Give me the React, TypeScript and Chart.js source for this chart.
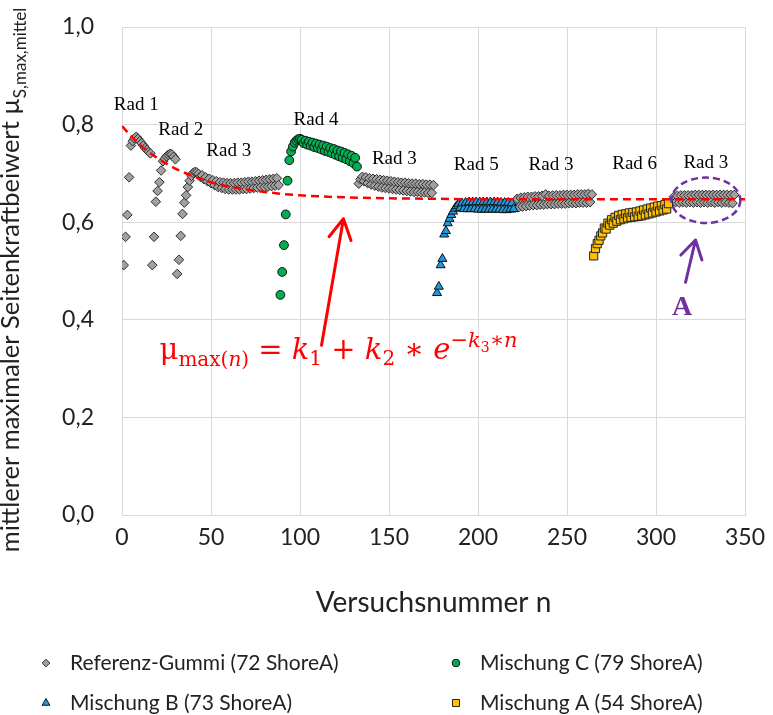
import React, { useEffect, useRef } from "react";
import { Chart, registerables } from "chart.js";

Chart.register(...registerables);

// ---------- data (n = Versuchsnummer, values = µ) ----------
const seriesLabels = [
  "Referenz-Gummi (72 ShoreA)",
  "Mischung C (79 ShoreA)",
  "Mischung B (73 ShoreA)",
  "Mischung A (54 ShoreA)",
];

// Referenz-Gummi, Rad 1 (n = 1..16)
const refRad1Start = 1;
const refRad1 = [0.512, 0.570, 0.615, 0.692, 0.757, 0.766, 0.772, 0.775, 0.771, 0.766, 0.762, 0.757, 0.752, 0.748, 0.744, 0.741];
// Referenz-Gummi, Rad 2 (n = 17..30)
const refRad2Start = 17;
const refRad2 = [0.512, 0.570, 0.642, 0.664, 0.682, 0.706, 0.725, 0.730, 0.735, 0.738, 0.740, 0.739, 0.734, 0.729];
// Referenz-Gummi, Rad 3 (n = 31..88)
const refRad3aStart = 31;
const refRad3a = [
  0.494, 0.523, 0.572, 0.617, 0.640, 0.655, 0.672, 0.685, 0.695, 0.701, 0.703, 0.702,
  0.699, 0.693, 0.696, 0.688, 0.692, 0.684, 0.689, 0.680, 0.686, 0.676, 0.684, 0.672,
  0.682, 0.670, 0.681, 0.668, 0.680, 0.667, 0.680, 0.667, 0.680, 0.667, 0.681, 0.667,
  0.681, 0.668, 0.682, 0.668, 0.683, 0.669, 0.683, 0.670, 0.684, 0.671, 0.685, 0.672,
  0.686, 0.672, 0.687, 0.673, 0.688, 0.674, 0.689, 0.675, 0.690, 0.676,
];
// Mischung C, Rad 4 (n = 89..132)
const mischCStart = 89;
const mischC = [
  0.451, 0.498, 0.553, 0.616, 0.685, 0.727, 0.745, 0.755, 0.763, 0.767, 0.770, 0.771,
  0.769, 0.762, 0.767, 0.759, 0.765, 0.757, 0.763, 0.754, 0.761, 0.752, 0.759, 0.749,
  0.757, 0.746, 0.755, 0.744, 0.752, 0.741, 0.750, 0.738, 0.747, 0.735, 0.745, 0.732,
  0.742, 0.729, 0.739, 0.725, 0.736, 0.721, 0.732, 0.714,
];
// Referenz-Gummi, Rad 3 (n = 133..175)
const refRad3bStart = 133;
const refRad3b = [
  0.679, 0.688, 0.693, 0.684, 0.692, 0.680, 0.690, 0.677, 0.689, 0.675, 0.688, 0.673,
  0.687, 0.671, 0.686, 0.670, 0.685, 0.669, 0.684, 0.668, 0.683, 0.667, 0.682, 0.666,
  0.681, 0.665, 0.681, 0.664, 0.680, 0.663, 0.679, 0.662, 0.679, 0.662, 0.678, 0.661,
  0.678, 0.661, 0.677, 0.660, 0.677, 0.660, 0.676,
];
// Mischung B, Rad 5 (n = 177..220)
const mischBStart = 177;
const mischB = [
  0.455, 0.468, 0.512, 0.525, 0.575, 0.582, 0.598, 0.607, 0.615, 0.622, 0.628, 0.633,
  0.637, 0.629, 0.639, 0.627, 0.640, 0.627, 0.641, 0.627, 0.641, 0.627, 0.641, 0.626,
  0.641, 0.626, 0.641, 0.626, 0.641, 0.626, 0.641, 0.626, 0.641, 0.626, 0.641, 0.626,
  0.640, 0.625, 0.640, 0.625, 0.640, 0.626, 0.639, 0.627,
];
// Referenz-Gummi, Rad 3 (n = 221..264)
const refRad3cStart = 221;
const refRad3c = [
  0.630, 0.648, 0.631, 0.650, 0.632, 0.651, 0.633, 0.652, 0.634, 0.652, 0.635, 0.653,
  0.635, 0.653, 0.636, 0.654, 0.636, 0.657, 0.637, 0.654, 0.637, 0.655, 0.637, 0.655,
  0.638, 0.655, 0.638, 0.656, 0.638, 0.656, 0.639, 0.656, 0.639, 0.656, 0.639, 0.657,
  0.640, 0.657, 0.640, 0.657, 0.640, 0.658, 0.641, 0.657,
];
// Mischung A, Rad 6 (n = 265..307)
const mischAStart = 265;
const mischA = [
  0.531, 0.546, 0.556, 0.563, 0.572, 0.578, 0.588, 0.586, 0.598, 0.594, 0.605, 0.598,
  0.610, 0.602, 0.614, 0.605, 0.616, 0.607, 0.617, 0.609, 0.619, 0.610, 0.620, 0.611,
  0.621, 0.612, 0.623, 0.613, 0.625, 0.615, 0.627, 0.617, 0.629, 0.619, 0.631, 0.621,
  0.633, 0.623, 0.634, 0.625, 0.636, 0.627, 0.638,
];
// Referenz-Gummi, Rad 3 (n = 309..344)
const refRad3dStart = 309;
const refRad3d = [
  0.640, 0.652, 0.641, 0.654, 0.640, 0.655, 0.641, 0.655, 0.640, 0.655, 0.641, 0.655,
  0.640, 0.656, 0.641, 0.656, 0.640, 0.656, 0.641, 0.656, 0.640, 0.656, 0.641, 0.656,
  0.640, 0.656, 0.641, 0.656, 0.640, 0.656, 0.641, 0.656, 0.640, 0.656, 0.639, 0.656,
];

// Fit curve µmax(n)
const fitN = [0, 5, 10, 15, 20, 25, 30, 40, 50, 60, 70, 80, 90, 100, 125, 150, 175, 200, 250, 300, 350];
const fitMu = [0.797, 0.777, 0.759, 0.744, 0.731, 0.720, 0.710, 0.694, 0.682, 0.673, 0.667, 0.662, 0.658, 0.655, 0.651, 0.649, 0.648, 0.647, 0.647, 0.647, 0.647];

// Wheel labels (annotations, data coordinates)
const radLabels = ["Rad 1", "Rad 2", "Rad 3", "Rad 4", "Rad 3", "Rad 5", "Rad 3", "Rad 6", "Rad 3"];
const radLabelN = [8, 33, 60, 109, 153, 199, 241, 288, 328];
const radLabelMu = [0.840, 0.788, 0.746, 0.809, 0.729, 0.717, 0.717, 0.719, 0.721];

// ---------- helpers ----------
const seg = (start: number, vals: number[]) => vals.map((v, i) => ({ x: start + i, y: v }));

const refData = [
  ...seg(refRad1Start, refRad1),
  ...seg(refRad2Start, refRad2),
  ...seg(refRad3aStart, refRad3a),
  ...seg(refRad3bStart, refRad3b),
  ...seg(refRad3cStart, refRad3c),
  ...seg(refRad3dStart, refRad3d),
];
const cData = seg(mischCStart, mischC);
const bData = seg(mischBStart, mischB);
const aData = seg(mischAStart, mischA);
const fitData = fitN.map((n, i) => ({ x: n, y: fitMu[i] }));

const SANS = "Lato, 'Open Sans', sans-serif";
const SERIF = "'Liberation Serif', serif";
const MATH = "'DejaVu Serif', serif";
const RED = "#FF0000";
const PURPLE = "#7030A0";

function drawMarker(ctx: CanvasRenderingContext2D, style: string, x: number, y: number, r: number) {
  ctx.beginPath();
  if (style === "circle") ctx.arc(x, y, r, 0, Math.PI * 2);
  else if (style === "rectRot") {
    ctx.moveTo(x - r, y); ctx.lineTo(x, y - r); ctx.lineTo(x + r, y); ctx.lineTo(x, y + r); ctx.closePath();
  } else if (style === "triangle") {
    ctx.moveTo(x, y - r); ctx.lineTo(x + 0.866 * r, y + 0.5 * r); ctx.lineTo(x - 0.866 * r, y + 0.5 * r); ctx.closePath();
  } else {
    const s = r * Math.SQRT1_2;
    ctx.rect(x - s, y - s, 2 * s, 2 * s);
  }
  ctx.fill();
  ctx.stroke();
}

function drawArrow(ctx: CanvasRenderingContext2D, x0: number, y0: number, x1: number, y1: number, color: string, head: number, angDeg: number) {
  ctx.save();
  ctx.strokeStyle = color;
  ctx.lineWidth = 3;
  ctx.lineCap = "round";
  ctx.lineJoin = "round";
  ctx.setLineDash([]);
  ctx.beginPath();
  ctx.moveTo(x0, y0);
  ctx.lineTo(x1, y1);
  const a = Math.atan2(y0 - y1, x0 - x1);
  const d = (angDeg * Math.PI) / 180;
  ctx.moveTo(x1 + head * Math.cos(a - d), y1 + head * Math.sin(a - d));
  ctx.lineTo(x1, y1);
  ctx.lineTo(x1 + head * Math.cos(a + d), y1 + head * Math.sin(a + d));
  ctx.stroke();
  ctx.restore();
}

type Part = { t: string; size: number; italic?: boolean; dy?: number };
const formulaParts: Part[] = [
  { t: "μ", size: 29 },
  { t: "max(", size: 20, dy: 7 },
  { t: "n", size: 20, italic: true, dy: 7 },
  { t: ")", size: 20, dy: 7 },
  { t: " = ", size: 29 },
  { t: "k", size: 29, italic: true },
  { t: "1", size: 20, dy: 6 },
  { t: " + ", size: 29 },
  { t: "k", size: 29, italic: true },
  { t: "2", size: 20, dy: 6 },
  { t: " ∗ ", size: 29 },
  { t: "e", size: 29, italic: true },
  { t: "−", size: 21, dy: -12 },
  { t: "k", size: 21, italic: true, dy: -12 },
  { t: "3", size: 14, dy: -7 },
  { t: "∗", size: 21, dy: -12 },
  { t: "n", size: 21, italic: true, dy: -12 },
];

const overlayPlugin = {
  id: "overlay",
  afterDatasetsDraw(chart: any) {
    const { ctx } = chart;
    const xs = chart.scales.x;
    const ys = chart.scales.y;
    const px = (n: number) => xs.getPixelForValue(n);
    const py = (m: number) => ys.getPixelForValue(m);
    ctx.save();

    // wheel labels
    ctx.font = `19px ${SERIF}`;
    ctx.fillStyle = "#000";
    ctx.textAlign = "center";
    ctx.textBaseline = "middle";
    radLabels.forEach((t, i) => ctx.fillText(t, px(radLabelN[i]), py(radLabelMu[i])));

    // red arrow to the fit curve
    drawArrow(ctx, px(112.1), py(0.348), px(124.4), py(0.607), RED, 23, 29);

    // formula
    let fx = px(21.1);
    const fy = py(0.32);
    ctx.fillStyle = RED;
    ctx.textAlign = "left";
    ctx.textBaseline = "alphabetic";
    formulaParts.forEach((p) => {
      ctx.font = `${p.italic ? "italic " : ""}${p.size}px ${MATH}`;
      ctx.fillText(p.t, fx, fy + (p.dy || 0));
      fx += ctx.measureText(p.t).width;
    });

    // purple dashed ellipse
    const cx = px(328), cy = py(0.645);
    const rx = px(328 + 19.4) - cx, ry = cy - py(0.645 + 0.0465);
    ctx.strokeStyle = PURPLE;
    ctx.lineWidth = 2.5;
    ctx.setLineDash([7, 4]);
    ctx.beginPath();
    ctx.ellipse(cx, cy, rx, ry, 0, 0, Math.PI * 2);
    ctx.stroke();
    ctx.setLineDash([]);

    // purple arrow + "A"
    drawArrow(ctx, px(316.6), py(0.477), px(322.2), py(0.5635), PURPLE, 21, 31);
    ctx.fillStyle = PURPLE;
    ctx.font = `bold 28px ${SERIF}`;
    ctx.textAlign = "center";
    ctx.textBaseline = "middle";
    ctx.fillText("A", px(314.6), py(0.424));
    ctx.restore();
  },
  afterDraw(chart: any) {
    const { ctx } = chart;
    ctx.save();

    // y axis title with subscript
    ctx.fillStyle = "#222";
    ctx.textBaseline = "alphabetic";
    ctx.textAlign = "left";
    const main = "mittlerer maximaler Seitenkraftbeiwert µ";
    const sub = "S,max,mittel";
    ctx.font = `25.5px ${SANS}`;
    const wMain = ctx.measureText(main).width;
    ctx.font = `17px ${SANS}`;
    const wSub = ctx.measureText(sub).width;
    ctx.translate(19, 280);
    ctx.rotate(-Math.PI / 2);
    const start = -(wMain + wSub) / 2;
    ctx.font = `25.5px ${SANS}`;
    ctx.fillText(main, start, 0);
    ctx.font = `17px ${SANS}`;
    ctx.fillText(sub, start + wMain, 7);
    ctx.restore();

    // legend (2 columns x 2 rows)
    ctx.save();
    const cols = [46, 456];
    const rows = [663, 703];
    const ds = chart.data.datasets;
    for (let i = 0; i < 4; i++) {
      const d = ds[i];
      const x = cols[i % 2];
      const y = rows[Math.floor(i / 2)];
      ctx.fillStyle = d.backgroundColor;
      ctx.strokeStyle = d.borderColor;
      ctx.lineWidth = 1;
      const r = d.pointStyle === "rect" ? 5 : d.pointStyle === "triangle" ? 4.5 : 3.8;
      drawMarker(ctx, d.pointStyle, x, y, r);
      ctx.fillStyle = "#222";
      ctx.font = `21px ${SANS}`;
      ctx.textAlign = "left";
      ctx.textBaseline = "middle";
      ctx.fillText(d.label, x + 24, y);
    }
    ctx.restore();
  },
};

export default function App() {
  const ref = useRef<HTMLCanvasElement | null>(null);

  useEffect(() => {
    document.body.style.margin = "0";
    if (!ref.current) return;
    const tickFont = { family: SANS, size: 23 };
    const titleFont = { family: SANS, size: 28 };
    const chart = new Chart(ref.current, {
      type: "scatter",
      data: {
        datasets: [
          {
            label: seriesLabels[0], data: refData, pointStyle: "rectRot", pointRadius: 4.8, pointHoverRadius: 4.8,
            backgroundColor: "#A0A0A0", borderColor: "#2E2E2E", borderWidth: 1, order: 4,
          },
          {
            label: seriesLabels[1], data: cData, pointStyle: "circle", pointRadius: 4.4, pointHoverRadius: 4.4,
            backgroundColor: "#00B050", borderColor: "#111111", borderWidth: 1, order: 3,
          },
          {
            label: seriesLabels[2], data: bData, pointStyle: "triangle", pointRadius: 5.2, pointHoverRadius: 5.2,
            backgroundColor: "#1E9ADB", borderColor: "#111111", borderWidth: 1, order: 2,
          },
          {
            label: seriesLabels[3], data: aData, pointStyle: "rect", pointRadius: 5.8, pointHoverRadius: 5.8,
            backgroundColor: "#FFC000", borderColor: "#222222", borderWidth: 1, order: 1,
          },
          {
            label: "fit", data: fitData, showLine: true, pointRadius: 0, pointHoverRadius: 0,
            borderColor: RED, borderWidth: 2.5, borderDash: [8, 5], cubicInterpolationMode: "monotone",
            backgroundColor: RED, order: 0,
          },
        ] as any,
      },
      options: {
        animation: false,
        responsive: false,
        events: [],
        layout: { padding: { left: 0, right: 28, top: 27, bottom: 90 } },
        plugins: { legend: { display: false }, tooltip: { enabled: false } },
        scales: {
          x: {
            type: "linear", min: 0, max: 350,
            ticks: { stepSize: 50, font: tickFont, color: "#222", padding: 3, maxRotation: 0 },
            grid: { color: "#D9D9D9", drawTicks: true, tickLength: 6, tickColor: "rgba(0,0,0,0)", lineWidth: 1 },
            border: { color: "#D9D9D9" },
            title: { display: true, text: "Versuchsnummer n", font: titleFont, color: "#222", padding: { top: 0, bottom: 5 } },
            afterFit: (s: any) => { s.height = 110; },
          },
          y: {
            type: "linear", min: 0, max: 1,
            ticks: {
              stepSize: 0.2, font: tickFont, color: "#222", padding: 4,
              callback: (v: any) => Number(v).toFixed(1).replace(".", ","),
            },
            grid: { color: "#D9D9D9", drawTicks: true, tickLength: 24, tickColor: "rgba(0,0,0,0)", lineWidth: 1 },
            border: { color: "#D9D9D9" },
            afterFit: (s: any) => { s.width = 122; },
          },
        },
      } as any,
      plugins: [overlayPlugin],
    });
    return () => chart.destroy();
  }, []);

  return (
    <div style={{ width: 773, height: 715 }}>
      <canvas ref={ref} width={773} height={715} style={{ display: "block" }} />
    </div>
  );
}
